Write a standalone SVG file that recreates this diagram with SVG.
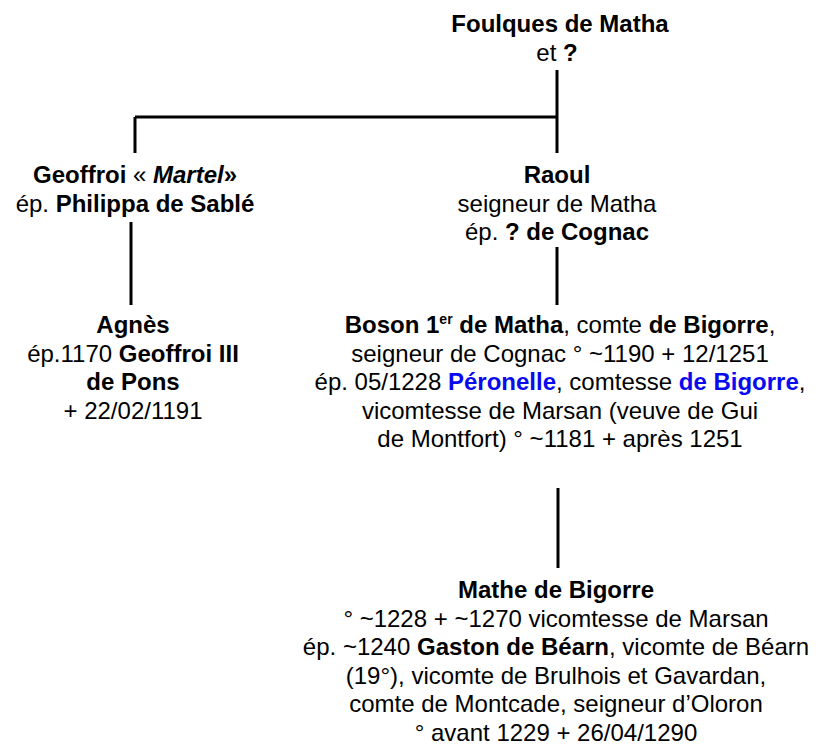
<svg xmlns="http://www.w3.org/2000/svg" width="818" height="746" viewBox="0 0 818 746">
<style>
text{font-family:"Liberation Sans",Arial,sans-serif;font-size:24px;fill:#000;text-anchor:middle}
.b{font-weight:bold}
.bi{font-weight:bold;font-style:italic}
.blue{fill:#0a0af0;font-weight:bold}
.sup{font-size:14px;font-weight:bold}
.ln{stroke:#000;stroke-width:3;fill:none}
</style>
<rect width="818" height="746" fill="#fff"/>
<g id="connectors">
<path class="ln" d="M557 70V153"/>
<path class="ln" d="M135 117H557"/>
<path class="ln" d="M135 117V153"/>
<path class="ln" d="M131 222V305"/>
<path class="ln" d="M557 247V305"/>
<path class="ln" d="M558 488V568"/>
</g>
<g id="foulques">
<text x="560" y="32" class="b">Foulques de Matha</text>
<text x="557" y="61">et <tspan class="b">?</tspan></text>
</g>
<g id="geoffroi">
<text x="135" y="183"><tspan class="b">Geoffroi</tspan> « <tspan class="bi">Martel</tspan><tspan class="b">»</tspan></text>
<text x="135" y="212">ép. <tspan class="b">Philippa de Sablé</tspan></text>
</g>
<g id="raoul">
<text x="557" y="183" class="b">Raoul</text>
<text x="557" y="211.5">seigneur de Matha</text>
<text x="557" y="240">ép. <tspan class="b">? de Cognac</tspan></text>
</g>
<g id="agnes">
<text x="133" y="333" class="b">Agnès</text>
<text x="133" y="361.5">ép.1170 <tspan class="b">Geoffroi III</tspan></text>
<text x="133" y="390" class="b">de Pons</text>
<text x="133" y="418.5">+ 22/02/1191</text>
</g>
<g id="boson">
<text x="560" y="333"><tspan class="b">Boson 1</tspan><tspan class="sup" dy="-9">er</tspan><tspan class="b" dy="9"> de Matha</tspan>, comte <tspan class="b">de Bigorre</tspan>,</text>
<text x="560" y="361.5">seigneur de Cognac ° ~1190 + 12/1251</text>
<text x="560" y="390">ép. 05/1228 <tspan class="blue">Péronelle</tspan>, comtesse <tspan class="blue">de Bigorre</tspan>,</text>
<text x="560" y="418.5">vicomtesse de Marsan (veuve de Gui</text>
<text x="560" y="447">de Montfort) ° ~1181 + après 1251</text>
</g>
<g id="mathe">
<text x="556" y="598" class="b">Mathe de Bigorre</text>
<text x="556" y="626.5">° ~1228 + ~1270 vicomtesse de Marsan</text>
<text x="556" y="655">ép. ~1240 <tspan class="b">Gaston de Béarn</tspan>, vicomte de Béarn</text>
<text x="556" y="683.5">(19°), vicomte de Brulhois et Gavardan,</text>
<text x="556" y="712">comte de Montcade, seigneur d’Oloron</text>
<text x="556" y="740.5">° avant 1229 + 26/04/1290</text>
</g>
</svg>
